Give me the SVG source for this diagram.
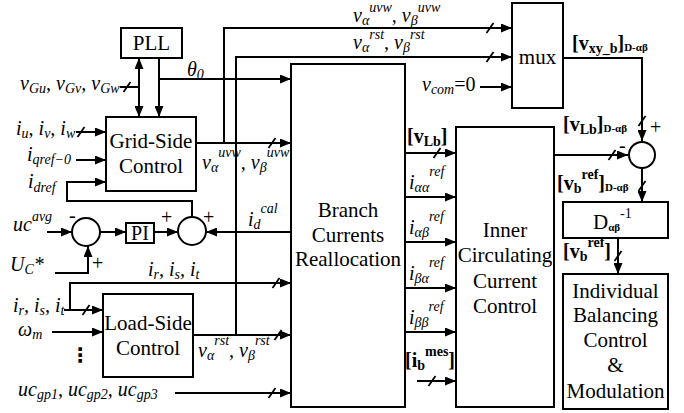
<svg xmlns="http://www.w3.org/2000/svg" width="684" height="413" viewBox="0 0 684 413">
<defs>
<marker id="ah" markerWidth="11" markerHeight="9" refX="11" refY="4.5" orient="auto-start-reverse" markerUnits="userSpaceOnUse"><path d="M0,0 L11,4.5 L0,9 Z" fill="#000"/></marker>
<path id="sl" d="M-3.5,5 L3.5,-5" stroke="#000" stroke-width="1.8" fill="none"/>
</defs>
<style>
.bx{fill:#fff;stroke:#000;stroke-width:2}
.ln{fill:none;stroke:#000;stroke-width:2}
.ar{marker-end:url(#ah)}
text{font-family:'Liberation Serif','Times New Roman',serif;fill:#000}
.t{font-size:21px}
.i{font-style:italic;font-size:20px}
.b{font-weight:bold;font-size:20px}
.r{font-size:20px}
.s{font-size:14px}
.xs{font-size:11px}
.m{text-anchor:middle}
</style>
<rect width="684" height="413" fill="#fff"/>
<g id="connectors">
<path class="ln" d="M139,58 V117" marker-start="url(#ah)" marker-end="url(#ah)"/>
<path class="ln ar" d="M159,58 V117"/>
<path class="ln ar" d="M159,79 H291"/>
<path class="ln" d="M120,87 H139"/><use href="#sl" x="127" y="87"/>
<path class="ln ar" d="M76,132 H106"/><use href="#sl" x="81" y="132"/>
<path class="ln ar" d="M76,160 H106"/>
<path class="ln ar" d="M192,217 V201 H67 V182 H106"/>
<path class="ln ar" d="M47,232 H72"/>
<path class="ln ar" d="M55,273 H88 V246"/>
<path class="ln ar" d="M100,232 H126"/>
<path class="ln ar" d="M154,232 H178"/>
<path class="ln ar" d="M291,232 H206"/>
<path class="ln ar" d="M196,143 H291"/><use href="#sl" x="272" y="143"/>
<path class="ln ar" d="M224,143 V28 H512"/><use href="#sl" x="490" y="28"/>
<path class="ln ar" d="M236,335 V57 H512"/><use href="#sl" x="490" y="57"/>
<path class="ln ar" d="M193,335 H291"/><use href="#sl" x="278" y="335"/>
<path class="ln ar" d="M70,310 V283 H291"/><use href="#sl" x="276" y="283"/>
<path class="ln ar" d="M64,310 H103"/><use href="#sl" x="86" y="310"/>
<path class="ln ar" d="M52,332 H103"/>
<path class="ln ar" d="M175,393 H291"/><use href="#sl" x="272" y="393"/>
<path class="ln ar" d="M480,87 H512"/>
<path class="ln ar" d="M563,58 H642 V141"/><use href="#sl" x="642" y="121"/>
<path class="ln ar" d="M554,155 H628"/><use href="#sl" x="612" y="155"/>
<path class="ln ar" d="M642,168 V202"/><use href="#sl" x="642" y="186"/>
<path class="ln ar" d="M618,238 V274"/><use href="#sl" x="618" y="256"/>
<path class="ln ar" d="M405,153 H456"/><use href="#sl" x="437" y="153"/>
<path class="ln ar" d="M405,197 H456"/>
<path class="ln ar" d="M405,242 H456"/>
<path class="ln ar" d="M405,288 H456"/>
<path class="ln ar" d="M405,332 H456"/>
<path class="ln ar" d="M417,381 H456"/><use href="#sl" x="432" y="381"/>
</g>
<g id="labels">
<text class="i" x="187" y="76">θ<tspan class="s" dy="3">0</tspan></text>
<text class="i" x="20" y="90">v<tspan class="s" dy="3">Gu</tspan><tspan dy="-3">, v</tspan><tspan class="s" dy="3">Gv</tspan><tspan dy="-3">, v</tspan><tspan class="s" dy="3">Gw</tspan></text>
<text class="i" x="16" y="135">i<tspan class="s" dy="3">u</tspan><tspan dy="-3">, i</tspan><tspan class="s" dy="3">v</tspan><tspan dy="-3">, i</tspan><tspan class="s" dy="3">w</tspan></text>
<text class="i" x="27" y="161">i<tspan class="s" dy="3">qref−0</tspan></text>
<text class="i" x="28" y="188">i<tspan class="s" dy="4">dref</tspan></text>
<text class="i" x="13" y="231">uc<tspan class="s" dy="-10">avg</tspan></text>
<text class="i" x="10" y="271">U<tspan class="s" dy="3">C</tspan><tspan dy="-3">*</tspan></text>
<text class="r" x="69" y="222">-</text>
<text class="r" x="92" y="270">+</text>
<text class="r" x="161" y="224">+</text>
<text class="r" x="203" y="224">+</text>
<text class="i" x="248" y="226">i<tspan class="s" dy="3">d</tspan><tspan class="s" dy="-16">cal</tspan></text>
<text class="i" x="202" y="169">v<tspan class="s" dy="3">α</tspan><tspan class="s" dy="-15">uvw</tspan><tspan dy="12">, v</tspan><tspan class="s" dy="3">β</tspan><tspan class="s" dy="-15">uvw</tspan></text>
<text class="i" x="148" y="276">i<tspan class="s" dy="3">r</tspan><tspan dy="-3">, i</tspan><tspan class="s" dy="3">s</tspan><tspan dy="-3">, i</tspan><tspan class="s" dy="3">t</tspan></text>
<text class="i" x="13" y="312">i<tspan class="s" dy="3">r</tspan><tspan dy="-3">, i</tspan><tspan class="s" dy="3">s</tspan><tspan dy="-3">, i</tspan><tspan class="s" dy="3">t</tspan></text>
<text class="i" x="18" y="336">ω<tspan class="s" dy="3">m</tspan></text>
<text x="80" y="362" style="font-family:'DejaVu Sans',sans-serif" font-size="20" font-weight="bold" text-anchor="middle">⋮</text>
<text class="i" x="198" y="357">v<tspan class="s" dy="3">α</tspan><tspan class="s" dy="-15">rst</tspan><tspan dy="12">, v</tspan><tspan class="s" dy="3">β</tspan><tspan class="s" dy="-15">rst</tspan></text>
<text class="i" x="18" y="396">uc<tspan class="s" dy="3">gp1</tspan><tspan dy="-3">, uc</tspan><tspan class="s" dy="3">gp2</tspan><tspan dy="-3">, uc</tspan><tspan class="s" dy="3">gp3</tspan></text>
<text class="i" x="353" y="22">v<tspan class="s" dy="3">α</tspan><tspan class="s" dy="-13">uvw</tspan><tspan dy="10">, v</tspan><tspan class="s" dy="3">β</tspan><tspan class="s" dy="-13">uvw</tspan></text>
<text class="i" x="353" y="49">v<tspan class="s" dy="3">α</tspan><tspan class="s" dy="-13">rst</tspan><tspan dy="10">, v</tspan><tspan class="s" dy="3">β</tspan><tspan class="s" dy="-13">rst</tspan></text>
<text class="i" x="422" y="91">v<tspan class="s" dy="3">com</tspan><tspan font-style="normal" dy="-3">=0</tspan></text>
<text class="b" x="572" y="50">[v<tspan class="s" dy="3">xy_b</tspan><tspan dy="-3">]</tspan><tspan class="xs" dy="1">D-αβ</tspan></text>
<text class="b" x="407" y="143">[v<tspan class="s" dy="3">Lb</tspan><tspan dy="-3">]</tspan></text>
<text class="b" x="563" y="131">[v<tspan class="s" dy="3">Lb</tspan><tspan dy="-3">]</tspan><tspan class="xs" dy="1">D-αβ</tspan></text>
<text class="r" x="650" y="134">+</text>
<text class="r" x="619" y="152">-</text>
<text class="b" x="557" y="190">[v<tspan class="s" dy="3">b</tspan><tspan class="s" dy="-14">ref</tspan><tspan dy="11">]</tspan><tspan class="xs" dy="1">D-αβ</tspan></text>
<text class="b" x="563" y="258">[v<tspan class="s" dy="3">b</tspan><tspan class="s" dy="-14">ref</tspan><tspan dy="11">]</tspan></text>
<text class="i" x="409" y="189">i<tspan class="s" dy="3">αα</tspan><tspan class="s" dy="-16">ref</tspan></text>
<text class="i" x="409" y="234">i<tspan class="s" dy="3">αβ</tspan><tspan class="s" dy="-16">ref</tspan></text>
<text class="i" x="409" y="280">i<tspan class="s" dy="3">βα</tspan><tspan class="s" dy="-16">ref</tspan></text>
<text class="i" x="409" y="324">i<tspan class="s" dy="3">ββ</tspan><tspan class="s" dy="-16">ref</tspan></text>
<text class="b" x="405" y="367">[i<tspan class="s" dy="3">b</tspan><tspan class="s" dy="-14">mes</tspan><tspan dy="11">]</tspan></text>
</g>
<g id="pll"><rect class="bx" x="121" y="28" width="61" height="30"/><text class="t m" x="151.5" y="50">PLL</text></g>
<g id="grid-side"><rect class="bx" x="106" y="117" width="90" height="74"/><text class="t m" x="151" y="148">Grid-Side</text><text class="t m" x="151" y="173">Control</text></g>
<g id="load-side"><rect class="bx" x="103" y="294" width="90" height="83"/><text class="t m" x="148" y="330">Load-Side</text><text class="t m" x="148" y="355">Control</text></g>
<g id="sum1"><circle class="bx" cx="86" cy="232" r="14"/></g>
<g id="pi"><rect class="bx" x="126" y="223" width="28" height="20"/><text class="r m" x="140" y="240">PI</text></g>
<g id="sum2"><circle class="bx" cx="192" cy="231" r="14"/></g>
<g id="branch"><rect class="bx" x="291" y="64" width="114" height="343"/><text class="t m" x="348" y="217">Branch</text><text class="t m" x="348" y="242">Currents</text><text class="t m" x="348" y="266">Reallocation</text></g>
<g id="inner"><rect class="bx" x="456" y="127" width="98" height="280"/><text class="t m" x="505" y="237">Inner</text><text class="t m" x="505" y="262">Circulating</text><text class="t m" x="505" y="288">Current</text><text class="t m" x="505" y="313">Control</text></g>
<g id="mux"><rect class="bx" x="512" y="3" width="51" height="105"/><text class="t m" x="537.5" y="64">mux</text></g>
<g id="sum3"><circle class="bx" cx="642" cy="155" r="13"/></g>
<g id="dinv"><rect class="bx" x="563" y="202" width="105" height="36"/><text class="t" x="593" y="229">D<tspan class="xs" font-weight="bold" dy="2">αβ</tspan><tspan class="s" dy="-13">-1</tspan></text></g>
<g id="individual"><rect class="bx" x="563" y="274" width="105" height="135"/><text class="t m" x="615.5" y="298">Individual</text><text class="t m" x="615.5" y="322">Balancing</text><text class="t m" x="615.5" y="347">Control</text><text class="t m" x="615.5" y="372">&amp;</text><text class="t m" x="615.5" y="398">Modulation</text></g>
</svg>
